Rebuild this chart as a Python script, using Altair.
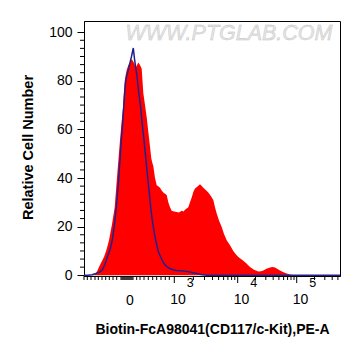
import altair as alt
import pandas as pd

# ---- data (x in display-channel units 0..256, y = relative cell number) ----
red_x = [8, 11, 13, 15, 17.5, 20, 22.5, 25, 28, 30.7, 32, 33.3, 34.7, 36, 37.5, 39, 40, 40.7, 41.7, 42.7,
         44.3, 46, 47.7, 49, 50.5, 51.5, 52.5, 54.3, 56, 57.7, 58.5, 59.3, 61, 62.7, 64.3, 66, 67.3, 68.5,
         69.3, 71, 72.7, 74.5, 76, 77.5, 79.3, 81, 82.7, 84.3, 86, 87.7, 90, 92.7, 95, 97.7, 99.5, 101,
         104.3, 106, 107.7, 109.5, 111, 113.5, 116, 117.5, 119.3, 122, 124.3, 127, 129.3, 131, 132.7, 135,
         137.7, 140, 142.7, 146, 149.3, 152, 154.3, 157, 159.3, 162.5, 166, 170, 174.3, 177, 179.3, 182.5,
         186, 188.5, 191, 193.5, 196, 199, 202.7, 206, 209.3]
red_y = [0, 0.5, 1.5, 3.4, 5.5, 7.5, 10.5, 14.4, 21, 28, 35, 41.8, 49, 55.6, 62.5, 69, 76, 80, 82.5, 84.4,
         86.4, 87.5, 89, 88, 87, 85.5, 86, 87.5, 86.5, 85, 80, 75, 70, 65, 59, 53, 48, 46,
         45, 40, 37, 36.5, 36, 35, 34, 33.5, 33, 30, 28, 26.5, 26.2, 26, 25.8, 26.5, 26.2, 27,
         28, 30, 32, 34.5, 35.7, 36.5, 37.4, 36.8, 36, 35, 34, 32.5, 31, 28, 25.4, 22.5,
         19.9, 17, 14.4, 12.3, 10, 8.5, 7.5, 6.7, 6, 4.8, 3.4, 2.3, 1.6, 1.7, 2.0, 2.7,
         3.2, 3.4, 3.2, 2.6, 2, 1.3, 0.7, 0.3, 0]

blue_x = [0, 4, 8, 12, 15.5, 18.3, 21, 23.3, 26, 28.3, 30.5, 32.3, 33.8, 35, 36.2, 37.3, 38.5, 39.5, 40.5,
          41.5, 42.5, 44, 46, 47.5, 49.3, 50.5, 51.5, 52.7, 54.5, 56.7, 58.3, 60, 61.7, 63.3, 65, 66.7, 68,
          69.3, 70.5, 71.7, 73, 74.5, 76.7, 79, 81, 83.5, 86, 89, 92.7, 97, 102.7, 107, 112.7, 117, 122.7, 256]
blue_y = [0, 0, 0.2, 0.7, 1.3, 2.2, 4.5, 7.5, 10.5, 14.4, 21, 28, 35, 41.8, 48.5, 55.6, 62, 68, 74,
          79, 81.5, 84, 87.5, 90, 93.5, 89, 86, 83, 76, 69, 62, 55.6, 48.5, 41.8, 35, 28, 23.5,
          20, 17, 14.4, 12, 9.5, 7.5, 5.5, 4.3, 3.3, 2.8, 2.3, 2.0, 1.9, 1.6, 1.2, 0.7, 0.3, 0, 0]

y_major = [0, 20, 40, 60, 80, 100]
y_minor = [v + k * 20 / 6 for v in [0, 20, 40, 60, 80] for k in range(1, 6)]

x_minor = [0, 3.3, 7, 11, 14.3, 18, 21.7, 25.3, 29, 32.7,
           37, 38, 39, 40, 41, 42, 43, 44, 45, 46, 47, 48, 49,
           52.7, 56, 60, 64.3, 68.7, 72.7, 77, 81.3, 85.3,
           109.4, 120.5, 128.5, 134.6, 139.6, 143.9, 147.6, 150.8,
           171.5, 181.8, 189.2, 194.9, 199.6, 203.6, 207, 210,
           230.5, 240.8, 248.2, 253.9]
x_major = [90.3, 153.7, 212.7]
x_exp = ["3", "4", "5"]
zero_pos = [45.8]

W, H = 256, 255
FONT = "Liberation Sans"

xs = alt.Scale(domain=[0, 256], nice=False, zero=False)
ys = alt.Scale(domain=[-0.3, 104.6], nice=False, zero=False)

red_df = pd.DataFrame({"x": red_x, "y": red_y})
blue_df = pd.DataFrame({"x": blue_x, "y": blue_y})

red = alt.Chart(red_df).mark_area(color="#ff0000", opacity=1, interpolate="linear").encode(
    x=alt.X("x:Q", scale=xs, axis=alt.Axis(
        title="Biotin-FcA98041(CD117/c-Kit),PE-A", labels=False, ticks=False, grid=False,
        domain=True, domainColor="black", titleFont=FONT, titleFontSize=14, titleFontWeight="bold",
        titleColor="black", titleY=57, titleBaseline="alphabetic")),
    y=alt.Y("y:Q", scale=ys, axis=alt.Axis(
        title="Relative Cell Number", values=y_major, tickSize=7, tickColor="black", grid=False,
        domain=True, domainColor="black", labelFont=FONT, labelFontSize=14, labelColor="black",
        labelPadding=5, titleFont=FONT, titleFontSize=14.5, titleFontWeight="bold", titleColor="black",
        titleX=-52, titleY=126, titleBaseline="alphabetic", titleAngle=-90)),
)

blue = alt.Chart(blue_df).mark_line(color="#22208e", strokeWidth=1.5, interpolate="linear").encode(
    x=alt.X("x:Q", scale=xs),
    y=alt.Y("y:Q", scale=ys),
)

yminor = alt.Chart(pd.DataFrame({"y": y_minor})).mark_rule(color="black", strokeWidth=1).encode(
    y=alt.Y("y:Q", scale=ys), x=alt.value(0), x2=alt.value(-4))

xminor = alt.Chart(pd.DataFrame({"x": x_minor})).mark_rule(color="black", strokeWidth=1).encode(
    x=alt.X("x:Q", scale=xs), y=alt.value(H), y2=alt.value(H + 4))

xmajor = alt.Chart(pd.DataFrame({"x": x_major})).mark_rule(color="black", strokeWidth=1).encode(
    x=alt.X("x:Q", scale=xs), y=alt.value(H), y2=alt.value(H + 7))

lab_df = pd.DataFrame({"x": x_major, "e": x_exp, "t": ["10"] * 3})
ten = alt.Chart(lab_df).mark_text(font=FONT, fontSize=14, color="black", align="left",
                                  baseline="alphabetic", dx=-4).encode(
    x=alt.X("x:Q", scale=xs), y=alt.value(H + 28), text="t:N")
sup = alt.Chart(lab_df).mark_text(font=FONT, fontSize=12.5, color="black", align="left",
                                  baseline="alphabetic", dx=12.5).encode(
    x=alt.X("x:Q", scale=xs), y=alt.value(H + 11), text="e:N")
zero = alt.Chart(pd.DataFrame({"x": zero_pos, "t": ["0"]})).mark_text(
    font=FONT, fontSize=14, color="black", align="center", baseline="alphabetic").encode(
    x=alt.X("x:Q", scale=xs), y=alt.value(H + 29), text="t:N")

wm = alt.Chart(pd.DataFrame({"t": ["WWW.PTGLAB.COM"]})).mark_text(
    font=FONT, fontSize=21.5, fontStyle="italic", color="#e6e6e6", stroke="#c0c0c0", strokeWidth=0.4,
    align="center", baseline="middle").encode(
    x=alt.value(145), y=alt.value(13), text="t:N")

chart = alt.layer(red, blue, yminor, xminor, xmajor, ten, sup, zero, wm).properties(
    width=W, height=H,
    autosize=alt.AutoSizeParams(type="none"),
    padding={"left": 84, "top": 21, "right": 21, "bottom": 80},
    background="white",
).configure_view(stroke="black", strokeWidth=1)

chart.save("out.html", embed_options={"renderer": "svg", "actions": False})
